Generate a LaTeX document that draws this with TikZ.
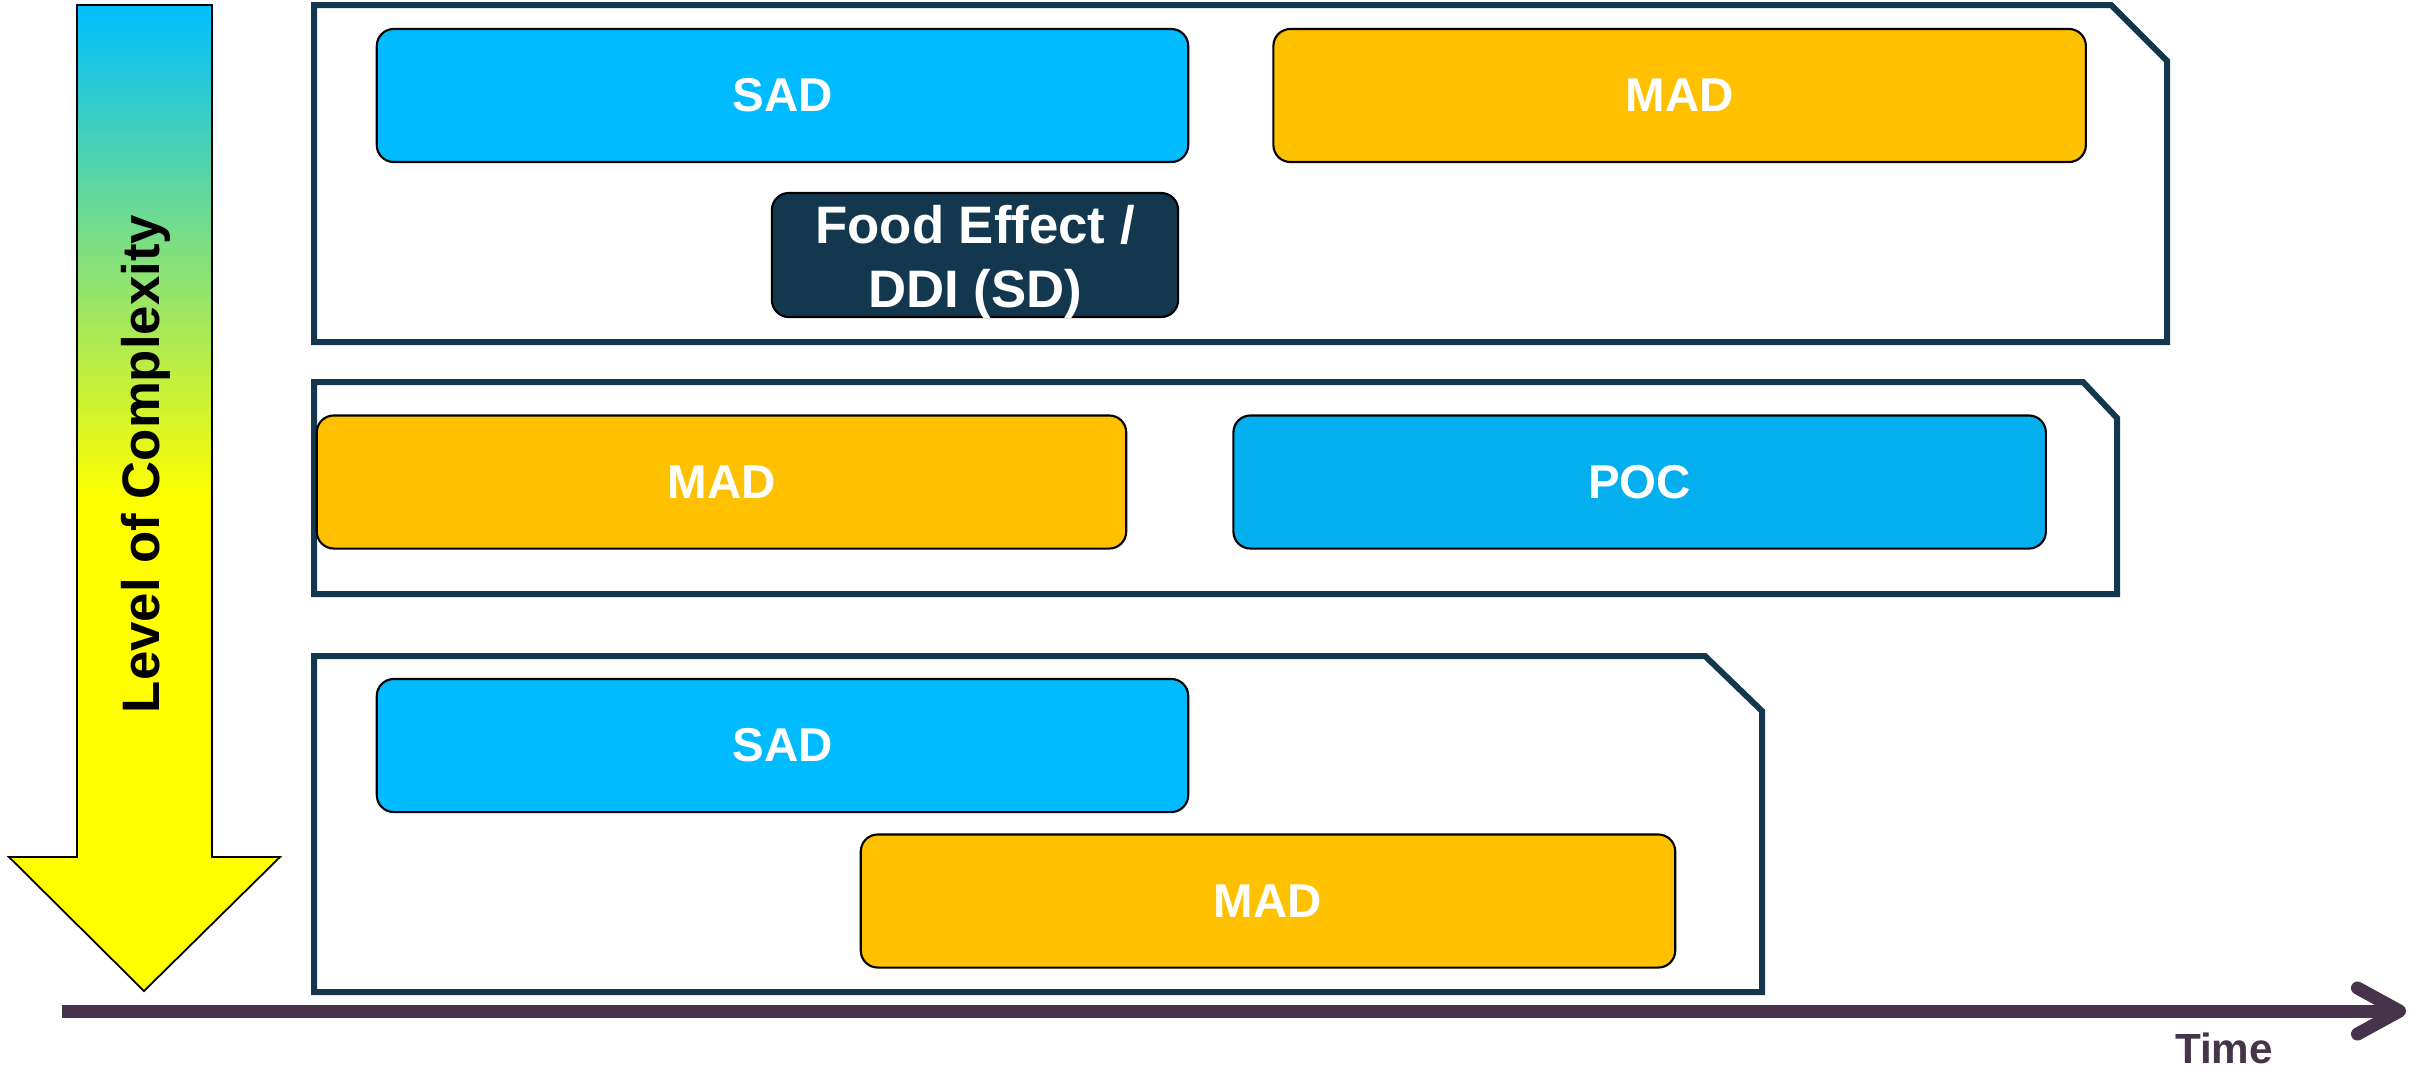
\documentclass[tikz,border=0pt]{standalone}
\usepackage{fontspec}
\setmainfont{Liberation Sans}
\usetikzlibrary{arrows.meta,positioning}

\definecolor{sadblue}{RGB}{0,187,255}
\definecolor{pocblue}{RGB}{3,175,239}
\definecolor{madgold}{RGB}{255,192,0}
\definecolor{fenavy}{RGB}{18,55,79}
\definecolor{framenavy}{RGB}{19,56,78}
\definecolor{timepurple}{RGB}{69,52,74}
\definecolor{topcyan}{RGB}{0,191,255}

\begin{document}
\begin{tikzpicture}[
    x=0.01cm, y=-0.01cm,
    stage/.style={draw=framenavy,line width=0.06cm,line join=miter},
    study/.style={rectangle,rounded corners=0.17cm,draw=black,line width=0.6pt,
        text=white,inner sep=0pt,minimum height=1.33cm,
        font=\fontsize{13.5}{16}\selectfont\bfseries},
    sadbox/.style={study,fill=sadblue,minimum width=8.11cm},
    madbox/.style={study,fill=madgold,minimum width=8.12cm},
    pocbox/.style={study,fill=pocblue,minimum width=8.12cm},
    febox/.style={study,fill=fenavy,minimum width=4.06cm,minimum height=1.24cm},
    fetext/.style={text=white,align=center,inner sep=0pt,
        font=\fontsize{15}{18.2}\selectfont\bfseries},
    timeline/.style={draw=timepurple,line width=0.13cm,
        -{Straight Barb[round,length=0.42cm,width=0.46cm]}}
    ]
    \useasboundingbox (0,0) rectangle (2425,1072);

    % complexity arrow
    \shade[draw=black,line width=0.5pt,top color=topcyan,bottom color=yellow,middle color=yellow]
        (77,5) -- (212,5) -- (212,857) -- (280,857) -- (144,991)
        -- (9,857) -- (77,857) -- cycle;
    \node (level) [rotate=90,font=\fontsize{15}{18}\selectfont\bfseries] at (146,464) {Level of Complexity};

    % stage frames
    \draw [stage] (314,5) -- (2111,5) -- (2167,61) -- (2167,342) -- (314,342) -- cycle;
    \draw [stage] (314,382) -- (2083,382) -- (2117,418) -- (2117,594) -- (314,594) -- cycle;
    \draw [stage] (314,656) -- (1705,656) -- (1762,711) -- (1762,992) -- (314,992) -- cycle;

    % first stage
    \node [sadbox] (sad1) at (782.5,95.5) {SAD};
    \node [madbox] (mad1) [right=0.83cm of sad1] {MAD};
    \node [febox] (fe) at (975,255) {};
    \node [fetext] (fetxt) at ([yshift=-0.07cm]fe.center) {Food Effect /\\DDI (SD)};

    % second stage
    \node [madbox,minimum width=8.09cm] (mad2) at (721.5,482) {MAD};
    \node [pocbox] (poc) [right=1.05cm of mad2] {POC};

    % third stage
    \node [sadbox] (sad3) at (782.5,745.5) {SAD};
    \node [madbox,minimum width=8.14cm] (mad3) at (1268,901) {MAD};

    % time axis
    \coordinate (t0) at (62,1011);
    \coordinate (t1) at (2406,1011);
    \draw [timeline] (t0) -- (t1);
    \node (time) [anchor=base,text=timepurple,font=\fontsize{12}{14}\selectfont\bfseries] at (2224,1063) {Time};
\end{tikzpicture}
\end{document}
